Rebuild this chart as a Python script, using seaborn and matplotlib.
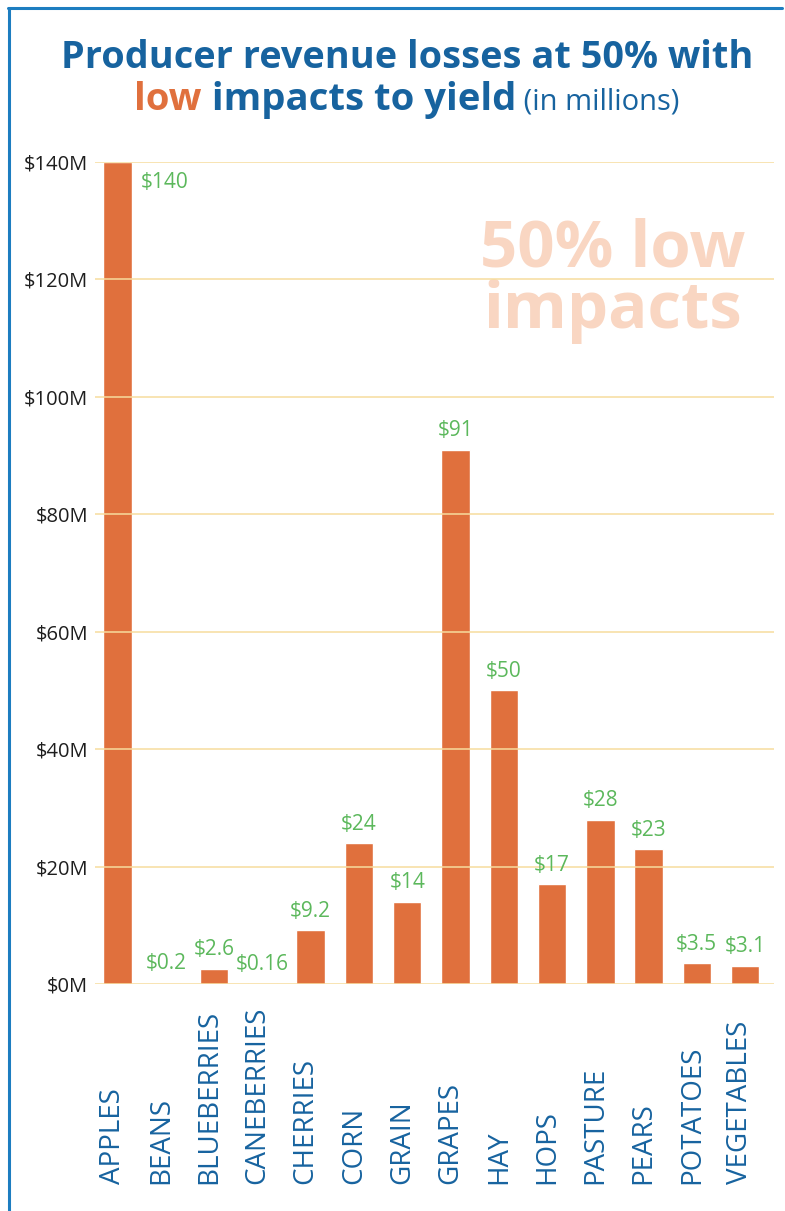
import matplotlib
matplotlib.use("Agg")
import matplotlib.pyplot as plt
import matplotlib.transforms as mtransforms
from matplotlib.lines import Line2D
import seaborn as sns
import pandas as pd

crops = ["APPLES", "BEANS", "BLUEBERRIES", "CANEBERRIES", "CHERRIES", "CORN", "GRAIN",
         "GRAPES", "HAY", "HOPS", "PASTURE", "PEARS", "POTATOES", "VEGETABLES"]
losses = [140, 0.2, 2.6, 0.16, 9.2, 24, 14, 91, 50, 17, 28, 23, 3.5, 3.1]
value_labels = ["$140", "$0.2", "$2.6", "$0.16", "$9.2", "$24", "$14", "$91", "$50",
                "$17", "$28", "$23", "$3.5", "$3.1"]
y_ticks = [0, 20, 40, 60, 80, 100, 120, 140]
y_tick_labels = ["$0M", "$20M", "$40M", "$60M", "$80M", "$100M", "$120M", "$140M"]

BLUE = "#17639f"
ORANGE = "#e0703d"
GREEN = "#5cb85c"
GRID = "#f7dc9e"
WATERMARK = "#f9d6c2"
FRAME = "#1d7dc0"

sns.set_theme(style="white")
plt.rcParams["font.family"] = ["Open Sans", "DejaVu Sans"]

df = pd.DataFrame({"crop": crops, "loss": losses})

W, H = 785, 1211
fig = plt.figure(figsize=(W / 100, H / 100), dpi=100)
fig.patch.set_facecolor("white")

ax_left, ax_right = 95 / W, 774 / W
ax_bottom, ax_top = (H - 984) / H, (H - 162) / H
ax = fig.add_axes([ax_left, ax_bottom, ax_right - ax_left, ax_top - ax_bottom])

sns.barplot(data=df, x="crop", y="loss", order=crops, color=ORANGE, saturation=1,
            width=0.59, ax=ax, zorder=2)

ax.set_xlim(-0.47, 13.6)
ax.set_ylim(0, 140)
ax.set_yticks(y_ticks)
ax.set_yticklabels(y_tick_labels, fontsize=14.5, color="#1e1e1e")
ax.tick_params(axis="y", length=0, pad=5)
ax.set_xticks([])
ax.set_xlabel("")
ax.set_ylabel("")
for s in ax.spines.values():
    s.set_visible(False)
ax.set_facecolor("none")
for yv in y_ticks:
    ax.axhline(yv, color=GRID, lw=1.1, zorder=3)

# value labels
for i, (v, lab) in enumerate(zip(losses, value_labels)):
    if i == 0:
        ax.annotate(lab, xy=(i + 0.3, v), xytext=(6, -7), textcoords="offset points",
                    ha="left", va="top", color=GREEN, fontsize=15, zorder=4)
    else:
        ax.annotate(lab, xy=(i, v), xytext=(0, 6), textcoords="offset points",
                    ha="center", va="bottom", color=GREEN, fontsize=15, zorder=4)

# category labels (rotated, bottom aligned)
trans = mtransforms.blended_transform_factory(ax.transData, fig.transFigure)
trans = trans + mtransforms.ScaledTranslation(-5 / 100, 0, fig.dpi_scale_trans)
for i, c in enumerate(crops):
    ax.text(i, (H - 1184) / H, c, transform=trans, rotation=90, ha="center", va="bottom",
            fontsize=20, color=BLUE)

# watermark
ax.text(0.763, 0.932, "50% low\nimpacts", transform=ax.transAxes, ha="center", va="top",
        fontsize=47, fontweight="bold", color=WATERMARK, linespacing=0.93, zorder=1)

# title line 1
fig.text(407 / W, (H - 68) / H, "Producer revenue losses at 50% with", ha="center",
         va="baseline", fontsize=27.3, fontweight="bold", color=BLUE)

# title line 2 (mixed colours)
parts = [("low", ORANGE, "bold", 27.5), (" impacts to yield", BLUE, "bold", 27.5),
         (" (in millions)", BLUE, "normal", 21)]
texts = []
for s, col, wt, fs in parts:
    texts.append(fig.text(0, (H - 110) / H, s, ha="left", va="baseline", fontsize=fs,
                          fontweight=wt, color=col))
fig.canvas.draw()
r = fig.canvas.get_renderer()
widths = [t.get_window_extent(r).width for t in texts]
total = sum(widths)
x = (407 - total / 2)
for t, w in zip(texts, widths):
    t.set_x(x / W)
    x += w

# frame lines
fig.add_artist(Line2D([8.5 / W, 8.5 / W], [0, (H - 8) / H], color=FRAME, lw=2.2,
                      transform=fig.transFigure))
fig.add_artist(Line2D([7.5 / W, 782 / W], [(H - 8) / H, (H - 8) / H], color=FRAME, lw=2.2,
                      transform=fig.transFigure))

fig.savefig("out.png", dpi=100, facecolor="white")
